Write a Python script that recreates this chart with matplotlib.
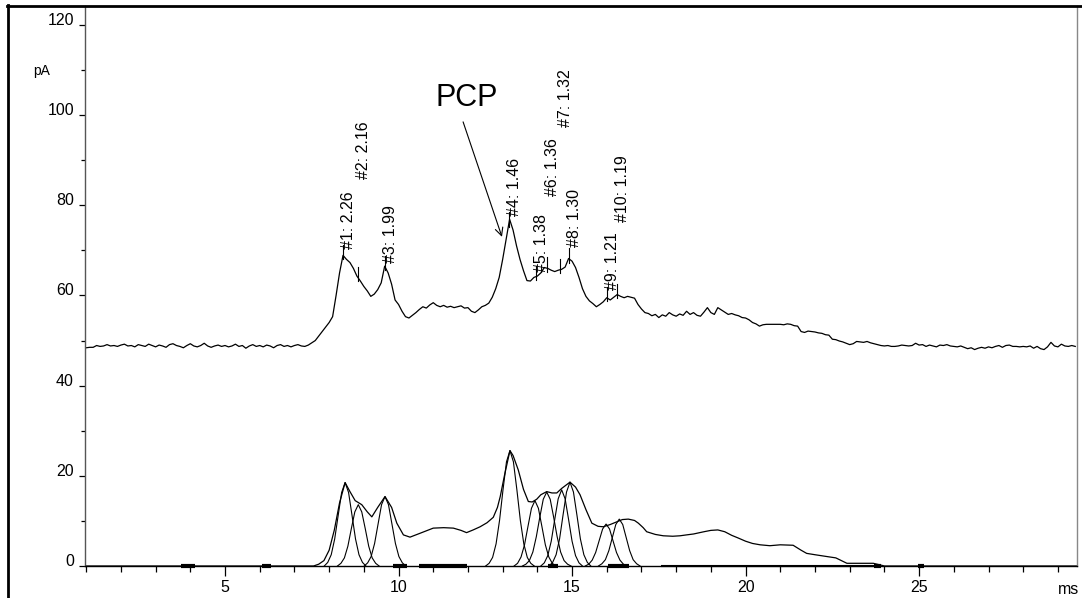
import numpy as np
import matplotlib.pyplot as plt
from matplotlib.lines import Line2D
from matplotlib.ticker import MultipleLocator

plt.rcParams['font.family'] = ['Liberation Sans', 'DejaVu Sans']

# --- Trace du haut (signal brut), un point toutes les 0.1 min à partir de 1.0 min ---
t0_haut = 1.0
pas_haut = 0.1
signal_haut = [
    48.4, 48.5, 48.5, 48.9, 48.7, 48.8, 49.1, 48.8, 48.9, 48.7,
    49.0, 49.2, 48.8, 48.9, 48.6, 49.1, 48.9, 48.7, 49.2, 48.9,
    48.6, 49.0, 48.8, 48.5, 49.1, 49.3, 48.9, 48.7, 48.4, 48.9,
    49.3, 48.8, 48.6, 48.9, 49.4, 48.8, 48.5, 48.8, 49.0, 48.7,
    48.9, 48.6, 48.8, 49.2, 48.7, 48.9, 48.3, 48.8, 49.1, 48.7,
    48.9, 48.6, 49.0, 48.8, 48.4, 48.9, 49.1, 48.7, 48.9, 48.6,
    48.9, 49.1, 48.8, 48.7, 49.0, 49.5, 50.0, 51.0, 52.0, 53.0,
    54.0, 55.3, 60.0, 65.0, 68.9, 68.0, 67.3, 66.0, 64.3, 63.2,
    62.0, 61.0, 59.8, 60.3, 61.3, 62.8, 66.5, 65.0, 62.5, 59.0,
    58.0, 56.5, 55.3, 55.0, 55.6, 56.2, 56.9, 57.5, 57.2, 57.9,
    58.4, 57.8, 57.5, 57.8, 57.4, 57.6, 57.3, 57.5, 57.7, 57.2,
    57.3, 56.5, 56.2, 56.8, 57.5, 57.8, 58.3, 59.6, 61.5, 64.0,
    68.0, 72.5, 76.9, 74.5, 71.0, 68.0, 65.5, 63.3, 63.2, 64.0,
    64.3, 65.0, 66.2, 66.0, 65.6, 65.3, 65.6, 65.8, 66.3, 68.2,
    67.6, 66.2, 64.0, 61.5, 59.8, 58.8, 58.2, 57.5, 58.0, 58.6,
    59.5, 59.0, 59.6, 60.2, 59.8, 59.5, 59.8, 59.6, 59.4, 58.0,
    57.0, 56.2, 56.0, 55.5, 55.8, 55.1, 55.7, 55.4, 56.2, 55.7,
    55.4, 55.9, 55.6, 56.5, 55.8, 56.2, 55.6, 55.4, 56.3, 57.3,
    56.2, 55.8, 57.3, 56.8, 56.3, 55.8, 56.0, 55.7, 55.5, 55.1,
    55.0, 54.6, 54.0, 53.7, 53.2, 53.5, 53.6, 53.6, 53.6, 53.6,
    53.6, 53.5, 53.7, 53.6, 53.3, 53.2, 52.0, 51.8, 52.1, 52.0,
    51.9, 51.7, 51.6, 51.3, 51.2, 50.3, 50.2, 49.9, 49.7, 49.4,
    49.1, 49.3, 49.8, 49.7, 49.6, 49.8, 49.5, 49.3, 49.1, 48.9,
    48.8, 48.9, 48.7, 48.7, 48.8, 49.0, 48.9, 48.8, 48.9, 49.4,
    49.0, 49.1, 48.7, 49.0, 48.8, 48.6, 49.0, 48.9, 49.1, 48.8,
    48.7, 48.6, 48.8, 48.5, 48.2, 48.4, 48.0, 48.3, 48.5, 48.3,
    48.6, 48.4, 48.7, 48.9, 48.5, 48.9, 49.0, 48.7, 48.7, 48.6,
    48.7, 48.6, 48.8, 48.3, 48.7, 48.2, 48.0, 48.6, 49.6, 48.8,
    48.6, 49.2, 48.8, 48.7, 48.9, 48.7,
]

# --- Trace du bas : enveloppe reconstruite ---
t_bas = [1.0, 7.55, 7.7, 7.85, 8.0, 8.15, 8.3, 8.46, 8.6, 8.75, 8.94, 9.1, 9.23,
         9.4, 9.61, 9.8, 9.95, 10.14, 10.33, 10.6, 11.0, 11.3, 11.58, 11.8, 11.96,
         12.15, 12.35, 12.55, 12.73, 12.85, 12.93, 13.05, 13.21, 13.3, 13.45, 13.6,
         13.74, 13.85, 13.98, 14.1, 14.27, 14.42, 14.56, 14.7, 14.94, 15.1, 15.23,
         15.4, 15.57, 15.75, 15.9, 16.1, 16.29, 16.45, 16.62, 16.8, 16.91, 17.05,
         17.15, 17.4, 17.63, 17.9, 18.11, 18.3, 18.5, 18.8, 19.0, 19.2, 19.4, 19.6,
         19.79, 20.0, 20.2, 20.42, 20.7, 21.0, 21.37, 21.6, 21.76, 22.0, 22.34,
         22.6, 22.92, 23.3, 23.68, 23.9, 24.0, 29.55]
y_bas = [0, 0, 0.4, 1.2, 3.5, 8.0, 14.0, 18.5, 16.5, 14.5, 13.6, 12.0, 10.9,
         13.0, 15.4, 13.0, 9.5, 6.9, 6.4, 7.2, 8.4, 8.5, 8.4, 7.9, 7.4,
         8.0, 8.7, 9.6, 10.8, 13.0, 15.4, 20.0, 25.6, 24.5, 21.3, 17.0,
         14.3, 14.2, 14.8, 15.8, 16.5, 16.2, 16.2, 17.2, 18.6, 17.5, 15.8,
         12.5, 9.5, 8.8, 8.7, 9.2, 9.8, 10.3, 10.4, 10.1, 9.5, 8.5,
         7.6, 7.0, 6.7, 6.6, 6.7, 6.9, 7.1, 7.6, 7.9, 8.0, 7.6, 6.8,
         6.2, 5.5, 5.0, 4.7, 4.5, 4.7, 4.6, 3.5, 2.8, 2.5, 2.1,
         1.8, 0.6, 0.6, 0.6, 0.2, 0, 0]

# --- Pics déconvolués : début de chaque pic, puis une valeur toutes les 0.1 min ---
pics_debut = [7.86, 8.24, 9.01, 12.51, 13.33, 13.57, 14.10, 14.34, 15.38, 15.76]
pics_valeurs = [
    [0, 0.8, 2.5, 6.0, 11.2, 16.3, 18.5, 16.3, 11.2, 6.0, 2.5, 0.8, 0],
    [0, 0.6, 1.8, 4.4, 8.3, 12.0, 13.6, 12.0, 8.3, 4.4, 1.8, 0.6, 0],
    [0, 0.7, 2.1, 5.0, 9.3, 13.6, 15.4, 13.6, 9.3, 5.0, 2.1, 0.7, 0],
    [0, 0.6, 1.9, 4.9, 10.1, 16.9, 23.1, 25.6, 23.1, 16.9, 10.1, 4.9, 1.9, 0.6, 0],
    [0, 0.6, 2.0, 4.7, 8.8, 12.8, 14.5, 12.8, 8.8, 4.7, 2.0, 0.6, 0],
    [0, 0.4, 1.2, 3.1, 6.5, 10.8, 14.8, 16.4, 14.8, 10.8, 6.5, 3.1, 1.2, 0.4, 0],
    [0, 0.7, 2.3, 5.5, 10.3, 14.9, 16.9, 14.9, 10.3, 5.5, 2.3, 0.7, 0],
    [0, 0.8, 2.5, 6.0, 11.3, 16.4, 18.6, 16.4, 11.3, 6.0, 2.5, 0.8, 0],
    [0, 0.4, 1.3, 3.0, 5.6, 8.2, 9.3, 8.2, 5.6, 3.0, 1.3, 0.4, 0],
    [0, 0.5, 1.4, 3.4, 6.3, 9.2, 10.4, 9.2, 6.3, 3.4, 1.4, 0.5, 0],
]

# --- Pics annotés sur la trace du haut ---
pics_temps = [8.40, 8.83, 9.61, 13.18, 13.96, 14.28, 14.65, 14.92, 16.00, 16.30]
pics_noms = ["#1: 2.26", "#2: 2.16", "#3: 1.99", "#4: 1.46", "#5: 1.38",
             "#6: 1.36", "#7: 1.32", "#8: 1.30", "#9: 1.21", "#10: 1.19"]

# --- Segments d'intégration sur la ligne de base ---
barres_debut = [3.72, 6.07, 9.85, 10.60, 14.30, 16.04, 23.70, 24.96]
barres_fin = [4.14, 6.32, 10.24, 11.97, 14.60, 16.65, 23.90, 25.15]

y_ticks = [0, 20, 40, 60, 80, 100, 120]
x_ticks = [5, 10, 15, 20, 25]

# hauteur du bas des étiquettes (mise en page, évite les chevauchements)
etiquettes_y = [70.2, 85.8, 67.3, 77.6, 65.1, 82.0, 97.3, 70.7, 61.3, 76.4]

# --- Figure ---
W, H = 1082, 598
fig = plt.figure(figsize=(W / 100, H / 100), dpi=100)
ax = fig.add_axes([85 / W, 32 / H, 992 / W, 560 / H])
ax.set_xlim(0.965, 29.55)
ax.set_ylim(0, 124.2)

t_haut = t0_haut + pas_haut * np.arange(len(signal_haut))
ax.plot(t_haut, signal_haut, color='black', lw=0.9)
ax.plot(t_bas, y_bas, color='black', lw=0.9, clip_on=False)
for debut, vals in zip(pics_debut, pics_valeurs):
    t_pic = debut + 0.1 * np.arange(len(vals))
    ax.plot(t_pic, vals, color='black', lw=0.8, clip_on=False)

for d, f in zip(barres_debut, barres_fin):
    ax.plot([d, f], [0, 0], color='black', lw=3, solid_capstyle='butt',
            clip_on=False, zorder=3)
ax.plot([17.55, 23.7], [0, 0], color='black', lw=1.5, solid_capstyle='butt',
        clip_on=False, zorder=3)

# petits repères et étiquettes des pics
for tp, nom, ye in zip(pics_temps, pics_noms, etiquettes_y):
    yp = np.interp(tp, t_haut, signal_haut)
    ax.plot([tp, tp], [yp - 0.8, yp + 2.4], color='black', lw=0.8)
    ax.text(tp + 0.16, ye, nom, rotation=90, ha='center', va='bottom', fontsize=11.5)

ax.text(11.97, 103.8, "PCP", ha='center', va='center', fontsize=22)
ax.annotate('', xy=(12.98, 73.0), xytext=(11.86, 98.5),
            arrowprops=dict(arrowstyle='->', lw=0.8, color='black',
                            shrinkA=0, shrinkB=0, mutation_scale=14))

# --- Axes ---
ax.spines['top'].set_visible(False)
ax.spines['left'].set_color('#555555')
ax.spines['right'].set_color('#888888')
ax.spines['bottom'].set_color('black')
for s in ['left', 'right', 'bottom']:
    ax.spines[s].set_linewidth(1.0)

ax.set_xticks(x_ticks)
ax.set_xticklabels([str(v) for v in x_ticks])
ax.xaxis.set_minor_locator(MultipleLocator(1))
ax.set_yticks(y_ticks)
ax.set_yticklabels([str(v) for v in y_ticks], va='baseline')
ax.yaxis.set_minor_locator(MultipleLocator(10))
ax.tick_params(axis='x', which='major', length=7, width=0.9, pad=3, labelsize=11.5)
ax.tick_params(axis='x', which='minor', length=4, width=0.9)
ax.tick_params(axis='y', which='major', length=4, width=0.9, pad=4, labelsize=11.5)
ax.tick_params(axis='y', which='minor', length=3, width=0.9)

fig.text(42 / W, 1 - 71 / H, "pA", ha='center', va='center', fontsize=10)
fig.text(1079 / W, 1 - 589 / H, "ms", ha='right', va='center', fontsize=11.5)

# cadre de l'image
fig.add_artist(Line2D([8 / W, 8 / W], [0, 1 - 5 / H], transform=fig.transFigure,
                      color='black', lw=2))
fig.add_artist(Line2D([7 / W, 1081 / W], [1 - 5.5 / H, 1 - 5.5 / H],
                      transform=fig.transFigure, color='black', lw=2))

fig.savefig("out.png", dpi=100)
